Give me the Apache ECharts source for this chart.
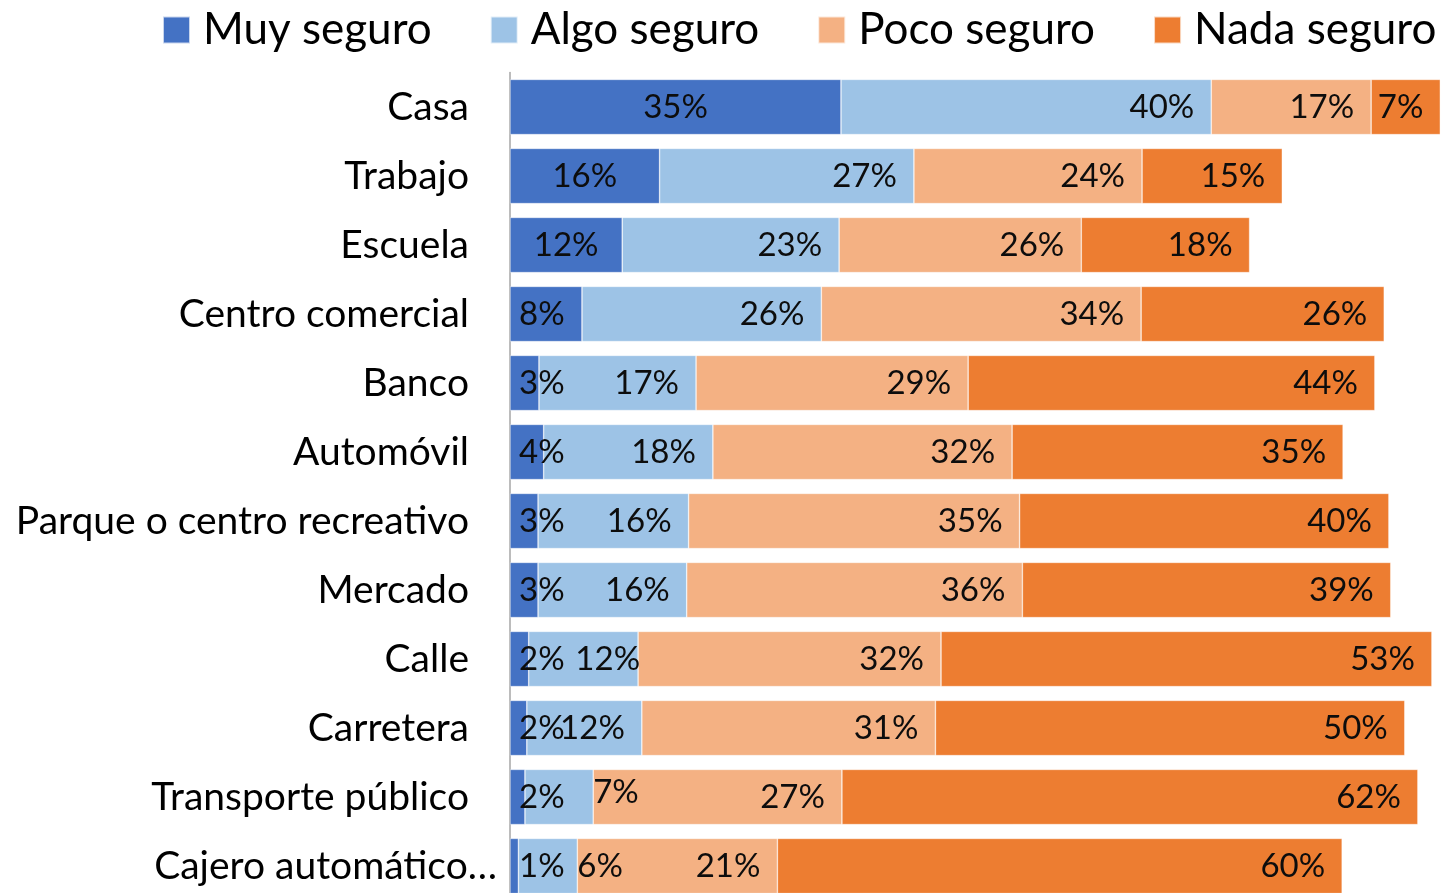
<!DOCTYPE html>
<html>
<head>
<meta charset="utf-8">
<script src="https://cdn.jsdelivr.net/npm/echarts@6/dist/echarts.min.js"></script>
<style>
  html, body { margin: 0; padding: 0; background: #fff; overflow: hidden; }
  #chart { width: 1441px; height: 893px; }
</style>
</head>
<body>
<div id="chart"></div>
<script>
// lugares, de arriba abajo
var categories = ['Casa', 'Trabajo', 'Escuela', 'Centro comercial', 'Banco', 'Automóvil',
    'Parque o centro recreativo', 'Mercado', 'Calle', 'Carretera', 'Transporte público', 'Cajero automático…'];

// porcentajes estimados del largo de las barras (las etiquetas se redondean)
var muySeguro  = [35.4, 16.0, 12.0,  7.7,  3.1,  3.6,  3.0,  3.0,  2.0,  1.8,  1.6,  0.9];
var algoSeguro = [39.6, 27.2, 23.2, 25.6, 16.8, 18.1, 16.1, 15.9, 11.7, 12.3,  7.3,  6.3];
var pocoSeguro = [17.1, 24.4, 25.9, 34.2, 29.1, 32.0, 35.4, 35.9, 32.4, 31.4, 26.6, 21.4];
var nadaSeguro = [ 7.4, 15.0, 18.0, 26.0, 43.5, 35.4, 39.5, 39.4, 52.5, 50.2, 61.6, 60.4];

var FONT = 'Lato';
var labelSize = 33;

var myChart = echarts.init(document.getElementById('chart'));

function pct(p) { return Math.round(p.value) + '%'; }

// etiquetas de la primera serie: centradas, las chicas pegadas a la izquierda
function muyData(arr) {
    return arr.map(function (v) {
        if (v < 10) return { value: v, label: { position: 'insideLeft', distance: 9 } };
        return v;
    });
}
// en la segunda serie los valores chicos quedan fuera del segmento
function algoData(arr) {
    return arr.map(function (v, i) {
        if (v < 10) return { value: v, label: { position: 'right', distance: 0, offset: [0, v > 7 ? -5 : 0] } };
        if (categories[i] === 'Calle') return { value: v, label: { distance: -2 } }; // Excel la corrió para no pisar el 2%
        return v;
    });
}

function serie(name, color, data, pos) {
    return {
        name: name,
        type: 'bar',
        stack: 'total',
        barCategoryGap: '20%',
        data: data,
        itemStyle: { color: color, borderColor: 'rgba(255,255,255,0.7)', borderWidth: 0.6 },
        label: {
            show: true,
            position: pos,
            distance: 17,
            formatter: pct,
            color: '#0d0d0d',
            fontFamily: FONT,
            fontSize: labelSize
        }
    };
}

var cats = categories.map(function (c, i) {
    if (i === categories.length - 1) return { value: c, textStyle: { padding: [0, -28, 0, 0] } };
    return c;
});

var option = {
    animation: false,
    legend: {
        left: 162,
        top: 8,
        width: 1400,
        padding: 0,
        itemWidth: 27,
        itemHeight: 27,
        itemGap: 58,
        icon: 'rect',
        textStyle: { fontFamily: FONT, fontSize: 44, color: '#000', lineHeight: 44, padding: [0, 0, 0, 8] },
        data: ['Muy seguro', 'Algo seguro', 'Poco seguro', 'Nada seguro']
    },
    // la última fila queda cortada por abajo, como en el original
    grid: { left: 510, top: 72.5, width: 935, height: 828, outerBoundsMode: 'none' },
    xAxis: {
        type: 'value',
        min: 0,
        max: 100,
        show: false
    },
    yAxis: {
        type: 'category',
        inverse: true,
        data: cats,
        axisLine: { show: true, lineStyle: { color: '#a6a6a6', width: 1.5 } },
        axisTick: { show: false },
        axisLabel: { margin: 41, fontFamily: FONT, fontSize: 39, color: '#000' }
    },
    series: [
        serie('Muy seguro', '#4472C4', muyData(muySeguro), 'inside'),
        serie('Algo seguro', '#9DC3E6', algoData(algoSeguro), 'insideRight'),
        serie('Poco seguro', '#F4B183', pocoSeguro, 'insideRight'),
        serie('Nada seguro', '#ED7D31', nadaSeguro, 'insideRight')
    ]
};

myChart.setOption(option);
</script>
</body>
</html>
